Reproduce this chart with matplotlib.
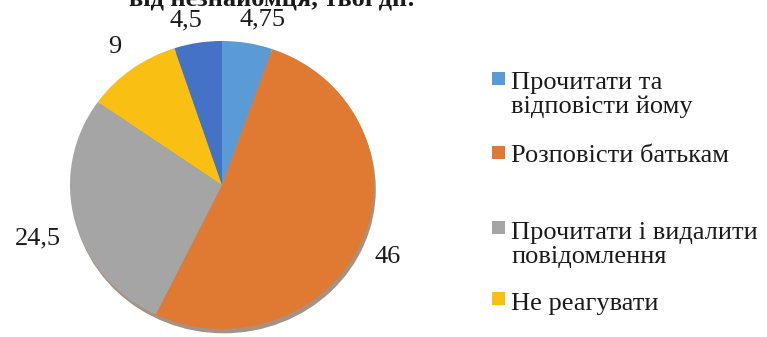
import matplotlib
matplotlib.use("Agg")
import matplotlib.pyplot as plt
from matplotlib.patches import Ellipse, Rectangle
import numpy as np

plt.rcParams['font.family'] = ['Liberation Serif', 'DejaVu Serif']

# Answers and their shares
categories = [
    "Прочитати та\nвідповісти йому",
    "Розповісти батькам",
    "Прочитати і видалити\nповідомлення",
    "Не реагувати",
    "",
]
values = [4.75, 46, 24.5, 9, 4.5]
value_labels = ["4,75", "46", "24,5", "9", "4,5"]
colors = ["#5B9BD5", "#E07A33", "#A5A5A5", "#F9C013", "#4472C4"]
title_tail = "від незнайомця, твої дії:"

W, H = 767, 337
fig = plt.figure(figsize=(W / 100, H / 100), dpi=100)

# pie axes: centre (222, 185) px, radii 152 x 144 px
cx, cy, rx, ry = 222, 185, 152, 144
ax = fig.add_axes([(cx - rx) / W, (H - cy - ry) / H, 2 * rx / W, 2 * ry / H])

# soft drop shadow under the disc
ax.add_patch(Ellipse((0.012, -0.03), 2.0, 2.0, facecolor="#5a3a20",
                     alpha=0.55, edgecolor='none', zorder=0, clip_on=False))

wedges, _ = ax.pie(values, colors=colors, startangle=90, counterclock=False,
                   radius=1.0, wedgeprops=dict(edgecolor='none'))
for w in wedges:
    w.set_zorder(1)
    w.set_clip_on(False)
ax.set_xlim(-1, 1)
ax.set_ylim(-1, 1)
ax.set_aspect('auto')
ax.axis('off')

# value labels placed outside each wedge, near its mid-angle
label_dist = [1.18, 1.2, 1.265, 1.19, 1.17]
label_shift = [-3.4, -2.0, 2.5, 0.0, 2.6]
for w, txt, d, s in zip(wedges, value_labels, label_dist, label_shift):
    mid = np.deg2rad((w.theta1 + w.theta2) / 2 + s)
    ax.text(d * np.cos(mid), d * np.sin(mid), txt, ha='center', va='center',
            fontsize=19, color="#1a1a1a", clip_on=False)

# last line of the title, running off the top edge
fig.text(272 / W, 1 - 5 / H, title_tail, ha='center', va='baseline',
         fontsize=19, fontweight='bold', color="#1a1a1a")

# legend on the right (text anchored at the baseline of its last line)
square_y = [78.5, 152.5, 227, 298]
text_base = [113, 162, 263, 310]
sq = 13
for ys, yb, lab, col in zip(square_y, text_base, categories[:4], colors[:4]):
    fig.patches.append(Rectangle((492 / W, (H - ys - sq / 2) / H), sq / W, sq / H,
                                 transform=fig.transFigure, facecolor=col,
                                 edgecolor='none'))
    fig.text(511 / W, 1 - yb / H, lab, ha='left', va='baseline',
             fontsize=19, color="#1a1a1a", linespacing=1.1)

fig.savefig("out.png", dpi=100)
